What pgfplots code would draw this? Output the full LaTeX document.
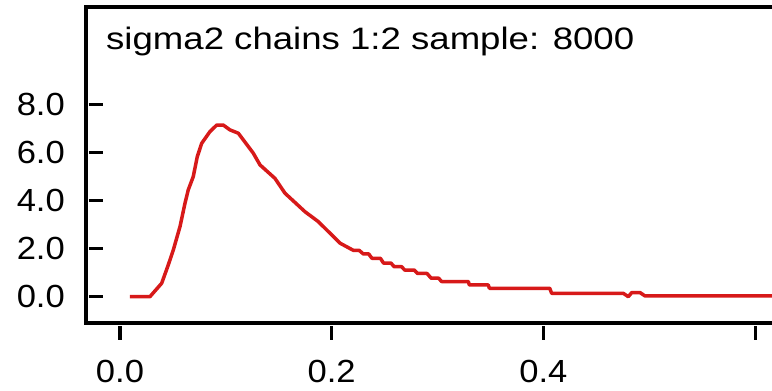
\documentclass[border=0pt]{standalone}
\usepackage{pgfplots}
\pgfplotsset{compat=1.18}
\usepackage{fontspec}
\setmainfont{Liberation Sans}
\newfontfamily\tickfont[FakeStretch=1.08]{Liberation Sans}
\newfontfamily\titlefont[FakeStretch=1.18]{Liberation Sans}
\definecolor{curvered}{RGB}{215,25,25}
\begin{document}
\begin{tikzpicture}
\useasboundingbox (0pt,0pt) rectangle (772pt,391pt);
\clip (0pt,0pt) rectangle (772pt,391pt);
\begin{axis}[
  at={(86pt,68pt)}, anchor=south west,
  scale only axis, width=714pt, height=316pt,
  xmin=-0.0321, xmax=0.6424, ymin=-1.096, ymax=12.07,
  axis line style={line width=3.5pt, black},
  tick align=inside, major tick length=14pt,
  xtick pos=bottom, ytick pos=left,
  xtick={0,0.2,0.4,0.6}, xticklabels={0.0,0.2,0.4,{}},
  ytick={0,2,4,6,8}, yticklabels={0.0,2.0,4.0,6.0,8.0},
  every major tick/.append style={line width=3.2pt, black},
  every x tick/.append style={yshift=-17pt},
  every y tick/.append style={xshift=3pt},
  xticklabel style={font=\tickfont\fontsize{32}{38}\selectfont, anchor=base, inner sep=0pt, yshift=-60pt},
  yticklabel style={font=\tickfont\fontsize{32}{38}\selectfont, anchor=east, inner sep=0pt, xshift=-21pt},
  clip=false,
]
\addplot[color=curvered, line width=3.5pt, line join=round] coordinates {
(0.0094,0) (0.0283,0) (0.0394,0.56) (0.0456,1.32) (0.0504,1.95) (0.0567,2.92)
(0.0614,3.89) (0.0645,4.45) (0.0692,5.00) (0.0730,5.83) (0.0772,6.39) (0.0850,6.88)
(0.0914,7.15) (0.0976,7.15) (0.1039,6.95) (0.1118,6.81) (0.1259,5.98) (0.1323,5.49)
(0.1464,4.93) (0.1559,4.31) (0.1748,3.54) (0.1873,3.13) (0.2079,2.23) (0.2205,1.93)
(0.2260,1.93) (0.2299,1.78) (0.2350,1.78) (0.2380,1.60) (0.2460,1.60) (0.2490,1.40)
(0.2560,1.40) (0.2590,1.25) (0.2660,1.25) (0.2690,1.11) (0.2780,1.11) (0.2810,0.97)
(0.2900,0.97) (0.2940,0.77) (0.3010,0.77) (0.3039,0.63) (0.3291,0.63) (0.3300,0.49)
(0.3479,0.49) (0.3490,0.35) (0.4060,0.35) (0.4078,0.14) (0.4755,0.14) (0.4802,0.0)
(0.4834,0.17) (0.4913,0.17) (0.4960,0.03) (0.6424,0.03)
};
\end{axis}
\node[anchor=base west, inner sep=0pt] at (106pt,341pt) {\titlefont\fontsize{31}{37}\selectfont sigma2 chains 1:2 sample: 8000};
\end{tikzpicture}
\end{document}
